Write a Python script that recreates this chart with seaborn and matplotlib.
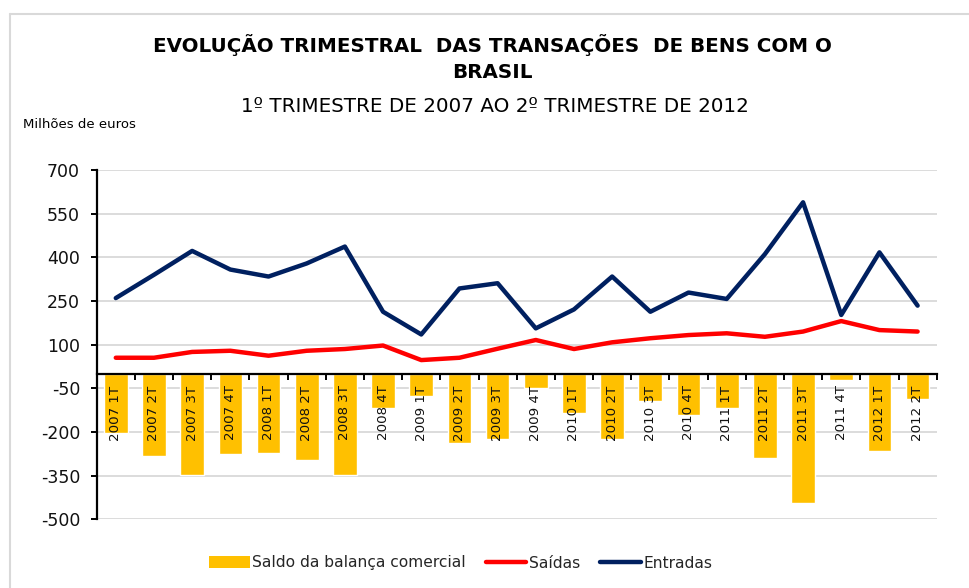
import numpy as np
import pandas as pd
import matplotlib
matplotlib.use("Agg")
import matplotlib.pyplot as plt
from matplotlib.patches import Patch
from matplotlib.lines import Line2D
import seaborn as sns

categories = ["2007 1T", "2007 2T", "2007 3T", "2007 4T",
              "2008 1T", "2008 2T", "2008 3T", "2008 4T",
              "2009 1T", "2009 2T", "2009 3T", "2009 4T",
              "2010 1T", "2010 2T", "2010 3T", "2010 4T",
              "2011 1T", "2011 2T", "2011 3T", "2011 4T",
              "2012 1T", "2012 2T"]
entradas = [260, 340, 422, 358, 334, 379, 437, 213, 135, 293, 311, 156,
            221, 334, 213, 279, 257, 411, 589, 202, 417, 234]
saidas = [55, 55, 75, 79, 62, 79, 85, 97, 47, 55, 86, 116,
          85, 108, 122, 133, 139, 127, 145, 181, 150, 145]
saldo = [-205, -282, -348, -277, -273, -296, -348, -119, -76, -237, -225, -48,
         -136, -225, -93, -142, -119, -290, -443, -21, -265, -88]
yticks = [-500, -350, -200, -50, 100, 250, 400, 550, 700]

c_bar = "#FFC000"
c_red = "#FF0000"
c_navy = "#002060"

sns.set_theme(style="white")
plt.rcParams["font.family"] = ["DejaVu Sans"]

fig = plt.figure(figsize=(9.7, 5.88), dpi=100)
ax = fig.add_axes([96.7 / 970, 1 - 519.3 / 588, (936.7 - 96.7) / 970, (519.3 - 170) / 588])

df = pd.DataFrame({"cat": categories, "saldo": saldo, "saidas": saidas,
                   "entradas": entradas, "pos": np.arange(len(categories))})

sns.barplot(data=df, x="cat", y="saldo", color=c_bar, width=0.62,
            saturation=1, ax=ax, zorder=2)
sns.lineplot(data=df, x="pos", y="saidas", color=c_red, lw=3.2, ax=ax,
             zorder=3, solid_capstyle="round")
sns.lineplot(data=df, x="pos", y="entradas", color=c_navy, lw=3.2, ax=ax,
             zorder=4, solid_capstyle="round")

n = len(categories)
ax.set_xlim(-0.5, n - 0.5)
ax.set_ylim(-500, 700)
ax.set_yticks(yticks)
ax.set_yticklabels([str(v) for v in yticks], fontsize=12.5)
ax.yaxis.grid(True, color="#D9D9D9", lw=1.3, zorder=0)
ax.xaxis.grid(False)
ax.set_axisbelow(True)

ax.set_xticks(np.arange(-0.5, n, 1.0))
ax.set_xticklabels([""] * (n + 1))
ax.set_xlabel("")
ax.set_ylabel("")

for s in ["top", "right"]:
    ax.spines[s].set_visible(False)
ax.spines["left"].set_color("black")
ax.spines["left"].set_linewidth(1.6)
ax.spines["bottom"].set_position(("data", 0))
ax.spines["bottom"].set_color("black")
ax.spines["bottom"].set_linewidth(1.6)
ax.spines["bottom"].set_zorder(5)
ax.tick_params(axis="y", which="major", left=True, direction="out",
               length=4, width=1.4, color="black", pad=8, labelcolor="#111111")
ax.tick_params(axis="x", which="major", bottom=True, direction="out",
               length=4, width=1.4, color="black")

for i, lab in enumerate(categories):
    ax.text(i, -40, lab, rotation=90, ha="center", va="top",
            fontsize=9.6, color="#111111", zorder=6)

fig.text(0.508, 1 - 45 / 588, "EVOLUÇÃO TRIMESTRAL  DAS TRANSAÇÕES  DE BENS COM O",
         ha="center", va="center", fontsize=14.3, fontweight="bold", color="black")
fig.text(0.508, 1 - 72 / 588, "BRASIL",
         ha="center", va="center", fontsize=14.3, fontweight="bold", color="black")
fig.text(0.510, 1 - 106 / 588, "1º TRIMESTRE DE 2007 AO 2º TRIMESTRE DE 2012",
         ha="center", va="center", fontsize=14.3, color="black")
fig.text(23 / 970, 1 - 125 / 588, "Milhões de euros", ha="left", va="center",
         fontsize=9.5, color="black")

handles = [Patch(facecolor=c_bar, edgecolor="none"),
           Line2D([0], [0], color=c_red, lw=3.2, solid_capstyle="round"),
           Line2D([0], [0], color=c_navy, lw=3.2, solid_capstyle="round")]
fig.legend(handles, ["Saldo da balança comercial", "Saídas", "Entradas"],
           loc="center", bbox_to_anchor=(0.475, 1 - 563 / 588), ncol=3,
           frameon=False, fontsize=11.2, handlelength=2.6, handleheight=0.8,
           handletextpad=0.15, columnspacing=1.3)

# outer chart frame (top and left edges only are visible in the reference)
fx = 10.5 / 970
fy = 1 - 14 / 588
fig.add_artist(Line2D([fx, 1.0], [fy, fy], transform=fig.transFigure,
                      color="#D9D9D9", lw=1.5))
fig.add_artist(Line2D([fx, fx], [0.0, fy], transform=fig.transFigure,
                      color="#D9D9D9", lw=1.5))

fig.savefig("out.png", dpi=100)
